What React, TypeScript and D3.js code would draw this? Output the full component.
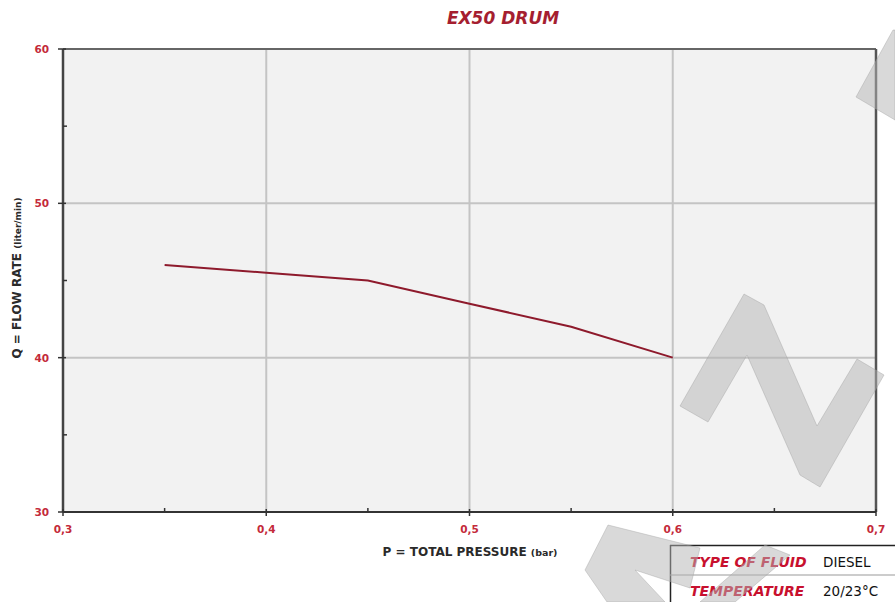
import React from "react";
import * as d3 from "d3";

const pressure = [0.35, 0.4, 0.45, 0.5, 0.55, 0.6];
const flowRate = [46, 45.5, 45, 43.5, 42, 40];
const xTicks = [0.3, 0.4, 0.5, 0.6, 0.7];
const xMinorTicks = [0.35, 0.45, 0.55, 0.65];
const yTicks = [30, 40, 50, 60];
const yMinorTicks = [35, 45, 55];
const tableRows = [
  ["TYPE OF FLUID", "DIESEL"],
  ["TEMPERATURE", "20/23°C"],
];

const W = 895;
const H = 602;
const M = { left: 63, right: 876, top: 49, bottom: 512 };

const watermark: [number, number][][] = [
  [[680, 406], [708, 422], [747, 355], [800, 475], [820, 487], [884, 375], [857, 359], [817, 426], [764, 305], [744, 294]],
  [[856, 97], [893, 30], [895, 30], [895, 120]],
  [[585, 570], [608, 525], [700, 548], [690, 588], [635, 570], [665, 602], [607, 602]],
  [[700, 602], [765, 545], [790, 555], [735, 602]],
];

export default function App() {
  const x = d3.scaleLinear().domain([0.3, 0.7]).range([M.left, M.right]);
  const y = d3.scaleLinear().domain([30, 60]).range([M.bottom, M.top]);
  const line = d3
    .line<number>()
    .x((_, i) => x(pressure[i]))
    .y((d) => y(d));
  const fmt = (v: number) => d3.format(".1f")(v).replace(".", ",");
  const font = "'DejaVu Sans', sans-serif";
  const red = "#c42a3a";

  return (
    <svg
      width={W}
      height={H}
      style={{ position: "absolute", left: 0, top: 0, background: "#fff" }}
      fontFamily={font}
    >
      <text x={503} y={24} textAnchor="middle" fontSize={17} fontWeight={700} fontStyle="italic" fill="#a51e30">
        EX50 DRUM
      </text>
      <rect x={M.left} y={M.top} width={M.right - M.left} height={M.bottom - M.top} fill="#f2f2f2" />
      {xTicks.slice(1, -1).map((t) => (
        <line key={"gx" + t} x1={x(t)} x2={x(t)} y1={M.top} y2={M.bottom} stroke="#c4c4c4" strokeWidth={2} />
      ))}
      {yTicks.slice(1, -1).map((t) => (
        <line key={"gy" + t} x1={M.left} x2={M.right} y1={y(t)} y2={y(t)} stroke="#c4c4c4" strokeWidth={2} />
      ))}
      {/* frame */}
      <line x1={M.left} x2={M.right} y1={M.top} y2={M.top} stroke="#666" strokeWidth={2} />
      <line x1={M.right} x2={M.right} y1={M.top} y2={M.bottom} stroke="#555" strokeWidth={2.5} />
      <line x1={M.left} x2={M.right} y1={M.bottom} y2={M.bottom} stroke="#333" strokeWidth={2} />
      <line x1={M.left} x2={M.left} y1={M.top} y2={M.bottom} stroke="#444" strokeWidth={2.5} />
      {/* ticks */}
      {xTicks.map((t) => (
        <g key={"xt" + t}>
          <line x1={x(t)} x2={x(t)} y1={M.bottom - 3} y2={M.bottom + 4} stroke="#333" strokeWidth={1.5} />
          <text x={x(t)} y={M.bottom + 21} textAnchor="middle" fontSize={10.5} fontWeight={700} fill={red}>
            {fmt(t)}
          </text>
        </g>
      ))}
      {xMinorTicks.map((t) => (
        <line key={"xm" + t} x1={x(t)} x2={x(t)} y1={M.bottom - 4} y2={M.bottom} stroke="#333" strokeWidth={1.5} />
      ))}
      {yTicks.map((t) => (
        <g key={"yt" + t}>
          <line x1={M.left - 5} x2={M.left + 3} y1={y(t)} y2={y(t)} stroke="#333" strokeWidth={1.5} />
          <text x={M.left - 14} y={y(t) + 4} textAnchor="end" fontSize={10.5} fontWeight={700} fill={red}>
            {t}
          </text>
        </g>
      ))}
      {yMinorTicks.map((t) => (
        <line key={"ym" + t} x1={M.left} x2={M.left + 4} y1={y(t)} y2={y(t)} stroke="#333" strokeWidth={1.5} />
      ))}
      <path d={line(flowRate) || ""} fill="none" stroke="#8e1a2c" strokeWidth={2} />
      {/* axis titles */}
      <text x={470} y={556} textAnchor="middle" fontSize={12} fontWeight={700} fill="#2a2a2a">
        P = TOTAL PRESSURE <tspan fontSize={9.5}>(bar)</tspan>
      </text>
      <text
        transform={`translate(21,${278}) rotate(-90)`}
        textAnchor="middle"
        fontSize={12}
        fontWeight={700}
        fill="#2a2a2a"
      >
        Q = FLOW RATE <tspan fontSize={9}>(liter/min)</tspan>
      </text>
      {/* info table */}
      <rect x={670} y={545} width={225} height={57} fill="#fff" />
      <line x1={670} x2={895} y1={545.5} y2={545.5} stroke="#222" strokeWidth={1.5} />
      <line x1={670.5} x2={670.5} y1={545} y2={602} stroke="#222" strokeWidth={1.5} />
      <line x1={670} x2={895} y1={575} y2={575} stroke="#999" strokeWidth={1} />
      {tableRows.map((r, i) => (
        <g key={r[0]}>
          <text x={690} y={567 + i * 29} fontSize={14} fontWeight={700} fontStyle="italic" fill="#c8102e">
            {r[0]}
          </text>
          <text x={823} y={567 + i * 29} fontSize={13.5} fill="#111">
            {r[1]}
          </text>
        </g>
      ))}
      {/* watermark */}
      {watermark.map((p, i) => (
        <polygon
          key={"wm" + i}
          points={p.map((q) => q.join(",")).join(" ")}
          fill="#b4b4b4"
          fillOpacity={0.5}
          stroke="#a0a0a0"
          strokeOpacity={0.4}
        />
      ))}
    </svg>
  );
}
